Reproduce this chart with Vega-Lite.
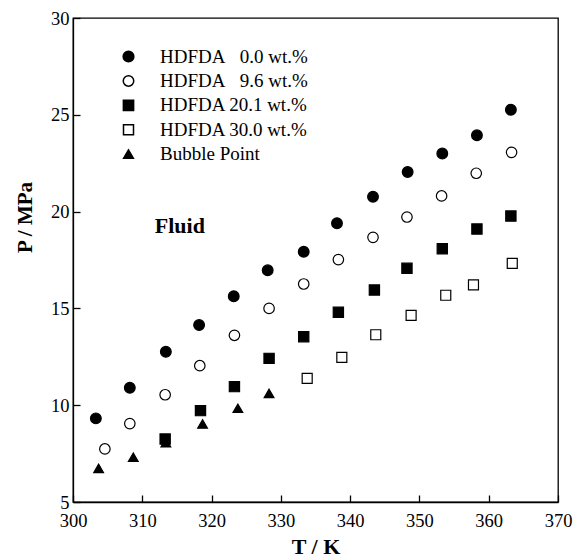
{
  "$schema": "https://vega.github.io/schema/vega-lite/v6.json",
  "width": 485,
  "height": 484,
  "autosize": "none",
  "padding": {"left": 73, "top": 18, "right": 16, "bottom": 55},
  "background": "white",
  "config": {
    "view": {"stroke": "black", "strokeWidth": 1.3},
    "font": "Liberation Serif",
    "axis": {
      "domainColor": "black", "domainWidth": 1.3,
      "tickColor": "black", "tickWidth": 1.3, "tickSize": -7,
      "grid": false,
      "labelFont": "Liberation Serif", "labelFontSize": 18.5, "labelColor": "black",
      "labelOverlap": false, "labelBound": false, "labelFlush": false,
      "titleFont": "Liberation Serif", "titleFontWeight": "bold", "titleColor": "black"
    },
    "legend": {
      "title": null, "orient": "none", "legendX": 46, "legendY": 29,
      "padding": 0, "labelFont": "Liberation Serif", "labelFontSize": 19, "labelColor": "black",
      "labelOffset": 22, "rowPadding": 4.4, "labelLimit": 300
    }
  },
  "data": {
    "values": [
      {"series": "HDFDA\u00a0\u00a0\u00a00.0 wt.%", "T": 303.3, "P": 9.32},
      {"series": "HDFDA\u00a0\u00a0\u00a00.0 wt.%", "T": 308.2, "P": 10.9},
      {"series": "HDFDA\u00a0\u00a0\u00a00.0 wt.%", "T": 313.4, "P": 12.76},
      {"series": "HDFDA\u00a0\u00a0\u00a00.0 wt.%", "T": 318.2, "P": 14.14},
      {"series": "HDFDA\u00a0\u00a0\u00a00.0 wt.%", "T": 323.2, "P": 15.63},
      {"series": "HDFDA\u00a0\u00a0\u00a00.0 wt.%", "T": 328.1, "P": 16.97},
      {"series": "HDFDA\u00a0\u00a0\u00a00.0 wt.%", "T": 333.3, "P": 17.93},
      {"series": "HDFDA\u00a0\u00a0\u00a00.0 wt.%", "T": 338.1, "P": 19.4},
      {"series": "HDFDA\u00a0\u00a0\u00a00.0 wt.%", "T": 343.3, "P": 20.77},
      {"series": "HDFDA\u00a0\u00a0\u00a00.0 wt.%", "T": 348.3, "P": 22.05},
      {"series": "HDFDA\u00a0\u00a0\u00a00.0 wt.%", "T": 353.3, "P": 23.0},
      {"series": "HDFDA\u00a0\u00a0\u00a00.0 wt.%", "T": 358.3, "P": 23.94},
      {"series": "HDFDA\u00a0\u00a0\u00a00.0 wt.%", "T": 363.2, "P": 25.26},
      {"series": "HDFDA\u00a0\u00a0\u00a09.6 wt.%", "T": 304.6, "P": 7.74},
      {"series": "HDFDA\u00a0\u00a0\u00a09.6 wt.%", "T": 308.2, "P": 9.05},
      {"series": "HDFDA\u00a0\u00a0\u00a09.6 wt.%", "T": 313.3, "P": 10.54},
      {"series": "HDFDA\u00a0\u00a0\u00a09.6 wt.%", "T": 318.3, "P": 12.04},
      {"series": "HDFDA\u00a0\u00a0\u00a09.6 wt.%", "T": 323.3, "P": 13.61},
      {"series": "HDFDA\u00a0\u00a0\u00a09.6 wt.%", "T": 328.3, "P": 15.0},
      {"series": "HDFDA\u00a0\u00a0\u00a09.6 wt.%", "T": 333.3, "P": 16.26},
      {"series": "HDFDA\u00a0\u00a0\u00a09.6 wt.%", "T": 338.3, "P": 17.52},
      {"series": "HDFDA\u00a0\u00a0\u00a09.6 wt.%", "T": 343.3, "P": 18.67},
      {"series": "HDFDA\u00a0\u00a0\u00a09.6 wt.%", "T": 348.2, "P": 19.72},
      {"series": "HDFDA\u00a0\u00a0\u00a09.6 wt.%", "T": 353.2, "P": 20.81},
      {"series": "HDFDA\u00a0\u00a0\u00a09.6 wt.%", "T": 358.2, "P": 21.98},
      {"series": "HDFDA\u00a0\u00a0\u00a09.6 wt.%", "T": 363.3, "P": 23.06},
      {"series": "HDFDA 20.1 wt.%", "T": 313.3, "P": 8.25},
      {"series": "HDFDA 20.1 wt.%", "T": 318.4, "P": 9.72},
      {"series": "HDFDA 20.1 wt.%", "T": 323.3, "P": 10.96},
      {"series": "HDFDA 20.1 wt.%", "T": 328.3, "P": 12.42},
      {"series": "HDFDA 20.1 wt.%", "T": 333.3, "P": 13.54},
      {"series": "HDFDA 20.1 wt.%", "T": 338.3, "P": 14.8},
      {"series": "HDFDA 20.1 wt.%", "T": 343.5, "P": 15.95},
      {"series": "HDFDA 20.1 wt.%", "T": 348.2, "P": 17.07},
      {"series": "HDFDA 20.1 wt.%", "T": 353.3, "P": 18.08},
      {"series": "HDFDA 20.1 wt.%", "T": 358.3, "P": 19.1},
      {"series": "HDFDA 20.1 wt.%", "T": 363.2, "P": 19.77},
      {"series": "HDFDA 30.0 wt.%", "T": 333.8, "P": 11.39},
      {"series": "HDFDA 30.0 wt.%", "T": 338.8, "P": 12.47},
      {"series": "HDFDA 30.0 wt.%", "T": 343.7, "P": 13.64},
      {"series": "HDFDA 30.0 wt.%", "T": 348.8, "P": 14.64},
      {"series": "HDFDA 30.0 wt.%", "T": 353.8, "P": 15.68},
      {"series": "HDFDA 30.0 wt.%", "T": 357.8, "P": 16.21},
      {"series": "HDFDA 30.0 wt.%", "T": 363.4, "P": 17.33},
      {"series": "Bubble Point", "T": 303.7, "P": 6.74},
      {"series": "Bubble Point", "T": 308.7, "P": 7.31},
      {"series": "Bubble Point", "T": 313.4, "P": 8.06},
      {"series": "Bubble Point", "T": 318.7, "P": 9.03},
      {"series": "Bubble Point", "T": 323.8, "P": 9.84},
      {"series": "Bubble Point", "T": 328.3, "P": 10.61}
    ]
  },
  "layer": [
    {
      "mark": {"type": "point", "filled": true, "stroke": "black", "strokeWidth": 1.2, "opacity": 1},
      "encoding": {
        "x": {
          "field": "T", "type": "quantitative",
          "scale": {"domain": [300, 370], "nice": false, "zero": false},
          "axis": {"values": [300, 310, 320, 330, 340, 350, 360, 370], "title": "T / K",
                   "titleFontSize": 22, "labelPadding": 16, "titleY": 44, "titleBaseline": "middle"}
        },
        "y": {
          "field": "P", "type": "quantitative",
          "scale": {"domain": [5, 30], "nice": false, "zero": false},
          "axis": {"values": [5, 10, 15, 20, 25, 30], "title": "P / MPa",
                   "titleFontSize": 21, "labelPadding": 11, "titleX": -48, "titleY": 199,
                   "titleBaseline": "middle"}
        },
        "shape": {
          "field": "series", "type": "nominal",
          "scale": {
            "domain": ["HDFDA\u00a0\u00a0\u00a00.0 wt.%", "HDFDA\u00a0\u00a0\u00a09.6 wt.%", "HDFDA 20.1 wt.%", "HDFDA 30.0 wt.%", "Bubble Point"],
            "range": ["circle", "circle", "square", "square", "triangle-up"]
          },
          "legend": {
            "encode": {"symbols": {"update": {"stroke": {"value": "black"}, "strokeWidth": {"value": 1.2}, "opacity": {"value": 1}}}}
          }
        },
        "fill": {
          "field": "series", "type": "nominal",
          "scale": {
            "domain": ["HDFDA\u00a0\u00a0\u00a00.0 wt.%", "HDFDA\u00a0\u00a0\u00a09.6 wt.%", "HDFDA 20.1 wt.%", "HDFDA 30.0 wt.%", "Bubble Point"],
            "range": ["black", "white", "black", "white", "black"]
          },
          "legend": {
            "encode": {"symbols": {"update": {"stroke": {"value": "black"}, "strokeWidth": {"value": 1.2}, "opacity": {"value": 1}}}}
          }
        },
        "size": {
          "field": "series", "type": "nominal",
          "scale": {
            "domain": ["HDFDA\u00a0\u00a0\u00a00.0 wt.%", "HDFDA\u00a0\u00a0\u00a09.6 wt.%", "HDFDA 20.1 wt.%", "HDFDA 30.0 wt.%", "Bubble Point"],
            "range": [115, 95, 106, 108, 118]
          },
          "legend": {
            "encode": {"symbols": {"update": {"stroke": {"value": "black"}, "strokeWidth": {"value": 1.2}, "opacity": {"value": 1}}}}
          }
        }
      }
    },
    {
      "data": {"values": [{"label": "Fluid", "T": 311.8, "P": 19.25}]},
      "mark": {"type": "text", "align": "left", "baseline": "middle", "font": "Liberation Serif",
               "fontWeight": "bold", "fontSize": 22, "color": "black"},
      "encoding": {
        "x": {"field": "T", "type": "quantitative"},
        "y": {"field": "P", "type": "quantitative"},
        "text": {"field": "label", "type": "nominal"}
      }
    }
  ]
}
